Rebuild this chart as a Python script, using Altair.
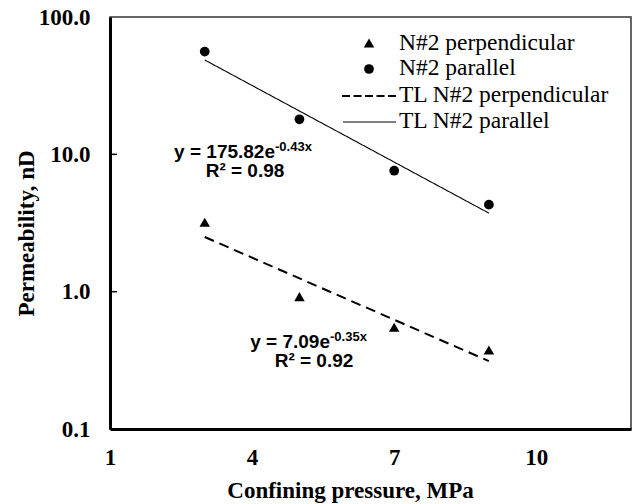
import altair as alt
import pandas as pd

# ---- data ----
pressure = [3, 5, 7, 9]
perm_perpendicular = [3.2, 0.92, 0.55, 0.376]
perm_parallel = [56, 18, 7.6, 4.3]
series_names = ["N#2 perpendicular", "N#2 parallel"]
legend_labels = ["N#2 perpendicular", "N#2 parallel", "TL N#2 perpendicular", "TL N#2 parallel"]
x_ticks = [1, 4, 7, 10]
y_ticks = [0.1, 1, 10, 100]
inner_ticks = [1, 10]
eq_parallel = ["y = 175.82e", "-0.43x", "R\u00b2 = 0.98"]
eq_perp = ["y = 7.09e", "-0.35x", "R\u00b2 = 0.92"]

df = pd.DataFrame({
    "pressure": pressure * 2,
    "perm": perm_perpendicular + perm_parallel,
    "series": [series_names[0]] * len(pressure) + [series_names[1]] * len(pressure),
})

SERIF = "Liberation Serif"
SANS = "Liberation Sans"

x_enc = alt.X(
    "pressure:Q",
    scale=alt.Scale(domain=[1, 12], nice=False, zero=False),
    axis=alt.Axis(values=x_ticks, title="Confining pressure, MPa", labelPadding=17,
                  labelFlush=False, labelOverlap=False, titleY=68, titleX=240,
                  titleBaseline="alphabetic"),
)
y_enc = alt.Y(
    "perm:Q",
    scale=alt.Scale(type="log", domain=[0.1, 100], nice=False),
    axis=alt.Axis(values=y_ticks, format=".1f", title="Permeability, nD", labelPadding=20,
                  labelOverlap=False, labelBaseline="middle", titleX=-77, titleY=216,
                  titleAngle=-90, titleBaseline="alphabetic", titleAlign="center"),
)

points = alt.Chart(df).mark_point(filled=True, opacity=1, color="black").encode(
    x=x_enc,
    y=y_enc,
    shape=alt.Shape("series:N", scale=alt.Scale(domain=series_names, range=["triangle-up", "circle"]), legend=None),
    size=alt.Size("series:N", scale=alt.Scale(domain=series_names, range=[110, 95]), legend=None),
)

trend = (
    alt.Chart(df)
    .transform_calculate(lnp="log(datum.perm)")
    .transform_regression("pressure", "lnp", groupby=["series"], extent=[3, 9])
    .transform_calculate(perm="exp(datum.lnp)")
    .mark_line(color="black")
    .encode(
        x=x_enc,
        y=y_enc,
        strokeDash=alt.StrokeDash("series:N", scale=alt.Scale(domain=series_names, range=[[10, 6], [1, 0]]), legend=None),
        strokeWidth=alt.StrokeWidth("series:N", scale=alt.Scale(domain=series_names, range=[2, 1.1]), legend=None),
    )
)

ticks_in = alt.Chart(pd.DataFrame({"perm": inner_ticks})).mark_rule(color="black", strokeWidth=1.5).encode(
    y=y_enc, x=alt.value(0), x2=alt.value(7)
)

layers = [trend, points, ticks_in]

# ---- equations ----
def equation(texts, right_x, base_y, r2_x, r2_y):
    main = alt.Chart(pd.DataFrame({"t": [texts[0]]})).mark_text(
        font=SANS, fontWeight="bold", fontSize=19, align="right", baseline="alphabetic", color="black"
    ).encode(x=alt.value(right_x), y=alt.value(base_y), text="t:N")
    sup = alt.Chart(pd.DataFrame({"t": [texts[1]]})).mark_text(
        font=SANS, fontWeight="bold", fontSize=13, align="left", baseline="alphabetic", color="black"
    ).encode(x=alt.value(right_x), y=alt.value(base_y - 7), text="t:N")
    r2 = alt.Chart(pd.DataFrame({"t": [texts[2]]})).mark_text(
        font=SANS, fontWeight="bold", fontSize=19, align="center", baseline="alphabetic", color="black"
    ).encode(x=alt.value(r2_x), y=alt.value(r2_y), text="t:N")
    return [main, sup, r2]

layers += equation(eq_parallel, 165, 141, 135, 160)
layers += equation(eq_perp, 220, 331, 204, 350)

# ---- legend ----
row_base = [33, 58, 85, 111]
for i, lab in enumerate(legend_labels):
    layers.append(
        alt.Chart(pd.DataFrame({"t": [lab]})).mark_text(
            font=SERIF, fontSize=23.5, align="left", baseline="alphabetic", color="black"
        ).encode(x=alt.value(289), y=alt.value(row_base[i]), text="t:N")
    )
one = pd.DataFrame({"k": [0]})
layers.append(alt.Chart(one).mark_point(shape="triangle-up", filled=True, opacity=1, color="black", size=110)
              .encode(x=alt.value(259), y=alt.value(row_base[0] - 7)))
layers.append(alt.Chart(one).mark_point(shape="circle", filled=True, opacity=1, color="black", size=95)
              .encode(x=alt.value(259), y=alt.value(row_base[1] - 6)))
layers.append(alt.Chart(one).mark_rule(color="black", strokeWidth=2, strokeDash=[8, 3.5])
              .encode(x=alt.value(232), x2=alt.value(286), y=alt.value(row_base[2] - 6)))
layers.append(alt.Chart(one).mark_rule(color="black", strokeWidth=1.1)
              .encode(x=alt.value(233), x2=alt.value(286), y=alt.value(row_base[3] - 6)))

chart = (
    alt.layer(*layers)
    .properties(
        width=521,
        height=412,
        padding={"left": 110, "top": 17, "right": 1, "bottom": 75},
        autosize=alt.AutoSizeParams(type="none"),
        background="white",
    )
    .configure_axis(
        labelFont=SERIF, labelFontWeight="bold", labelFontSize=23, labelColor="black",
        titleFont=SERIF, titleFontWeight="bold", titleFontSize=23, titleColor="black",
        domainColor="black", domainWidth=3, grid=False, ticks=False, tickSize=0,
    )
    .configure_view(stroke="#333333", strokeWidth=1.5)
)

chart.save("out.html", embed_options={"renderer": "svg", "actions": False})
